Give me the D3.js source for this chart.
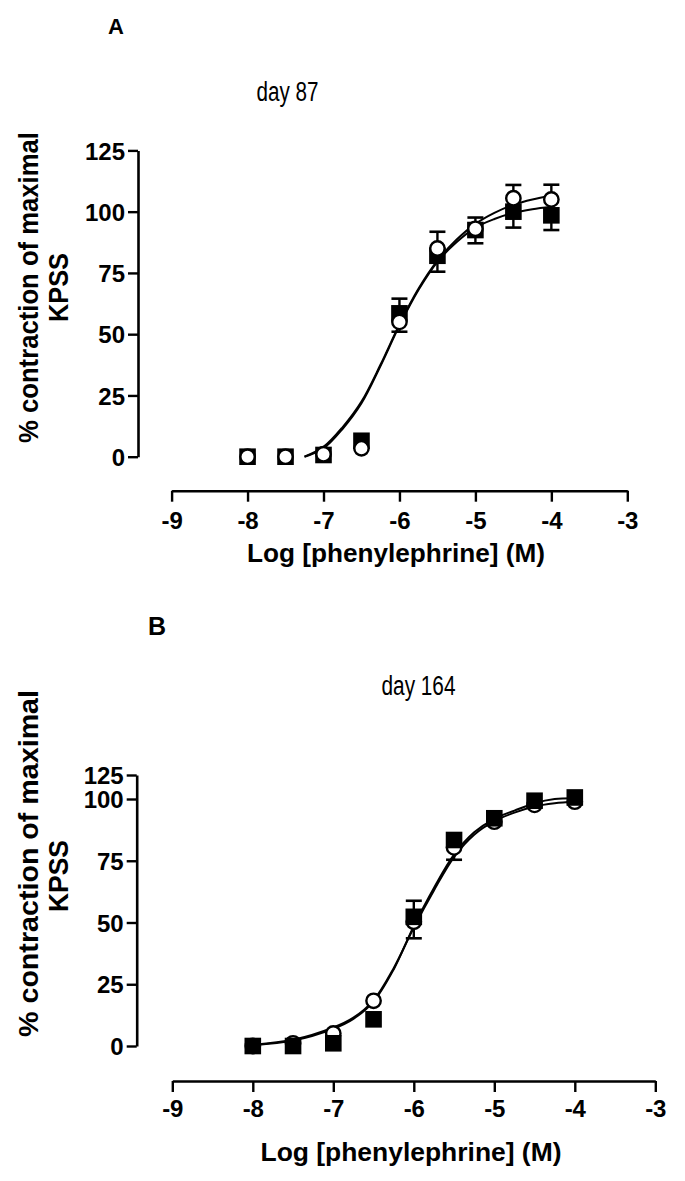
<!DOCTYPE html>
<html><head><meta charset="utf-8">
<script src="https://cdn.jsdelivr.net/npm/d3@7"></script>
<style>body{margin:0;background:#fff}svg{display:block}</style>
</head><body>
<svg id="c" width="685" height="1181"></svg>
<script>
// ---------- data ----------
const logConc = [-8, -7.5, -7, -6.5, -6, -5.5, -5, -4.5, -4];
const xTicks = [-9, -8, -7, -6, -5, -4, -3];
const yTicks = [0, 25, 50, 75, 100, 125];

// Panel A (day 87)
const aSquare    = [0, 0, 0.7, 6.5, 58.5, 82, 92.5, 100, 98.5];
const aSquareErr = [0, 0, 0, 0, 6, 6.5, 5.4, 6.5, 6];
const aCircle    = [0, 0, 1, 3.4, 55, 85, 93, 105.5, 105];
const aCircleErr = [0, 0, 0, 0, 4, 6.8, 4.6, 5.4, 6];
const aFitX      = [-7.25, -7, -6.75, -6.5, -6.25, -6, -5.75, -5.5, -5.25, -5, -4.75, -4.5, -4.25, -4];
const aCircleFit = [0, 4, 12, 22.5, 37.5, 54, 68.5, 80, 88.5, 95, 99.5, 102.8, 105, 106.5];
const aSquareFit = [0, 3.4, 11.3, 21.8, 37, 53.5, 68, 79.5, 87.5, 93.5, 97, 99.5, 101, 102];

// Panel B (day 164)
const bSquare    = [0, 0, 1.1, 10.8, 52.3, 83.4, 92.2, 99.3, 101.6];
const bSquareErr = [0, 0, 0, 0, 6.5, 0, 0, 0, 0];
const bCircle    = [0, 1.1, 5.1, 18.3, 50.3, 80.4, 90.8, 97.6, 98.9];
const bCircleErr = [0, 0, 0, 0, 6.7, 5, 0, 0, 0];
const bFitX      = [-8, -7.5, -7, -6.75, -6.5, -6.25, -6, -5.75, -5.5, -5.25, -5, -4.75, -4.5, -4.25, -4];
const bCircleFit = [0.5, 2.5, 7.5, 11.5, 18.5, 31.5, 48, 63, 76.5, 85.5, 91, 94.5, 97, 98.3, 99];
const bSquareFit = [0.3, 2.2, 7, 11, 18, 31, 48.5, 64, 77.5, 86.5, 92, 95.3, 98.3, 100, 100.8];

const panelLetters = ["A", "B"];
const panelTitles = ["day 87", "day 164"];
const xTitle = "Log [phenylephrine] (M)";
const yTitle1 = "% contraction of maximal";
const yTitle2 = "KPSS";

// ---------- drawing ----------
const svg = d3.select("#c");
const BOLD = "'Liberation Sans', Arial, Helvetica, sans-serif";
const NARROW = "'Liberation Sans Narrow', 'Arial Narrow', 'Liberation Sans', Arial, sans-serif";

function panel(cfg) {
  const g = svg.append("g");
  const x = d3.scaleLinear().domain([-9, -3]).range(cfg.xRange);
  const y = d3.scaleLinear().domain(cfg.yDomain).range(cfg.yRange);

  g.append("text").attr("x", cfg.letterX).attr("y", cfg.letterY)
    .attr("font-family", BOLD).attr("font-weight", "bold").attr("font-size", cfg.letterSize)
    .text(cfg.letter);
  g.append("text").attr("x", cfg.titleX).attr("y", cfg.titleY)
    .attr("text-anchor", "middle").attr("font-family", NARROW).attr("font-size", 27)
    .attr("textLength", cfg.titleLen).attr("lengthAdjust", "spacingAndGlyphs")
    .text(cfg.title);

  const ya = g.append("g").attr("transform", `translate(${cfg.yAxisX},0)`)
    .call(d3.axisLeft(y).tickValues(yTicks).tickSize(10).tickSizeOuter(0).tickPadding(3));
  ya.select(".domain").attr("stroke-width", 2.6).attr("stroke", "#000");
  ya.selectAll(".tick line").attr("stroke-width", 2.4).attr("stroke", "#000");
  ya.selectAll(".tick text").attr("font-family", BOLD).attr("font-weight", "bold")
    .attr("font-size", 24).attr("fill", "#000").attr("dy", "0.36em");
  ya.attr("font-size", null).attr("font-family", null);

  const xa = g.append("g").attr("transform", `translate(0,${cfg.xAxisY})`)
    .call(d3.axisBottom(x).tickValues(xTicks).tickSize(11).tickSizeOuter(0).tickPadding(8));
  xa.select(".domain").attr("stroke-width", 2.6).attr("stroke", "#000");
  xa.selectAll(".tick line").attr("stroke-width", 2.4).attr("stroke", "#000");
  xa.selectAll(".tick text").attr("font-family", BOLD).attr("font-weight", "bold")
    .attr("font-size", 24).attr("fill", "#000").attr("y", cfg.xLabelOff).attr("dy", "0.71em")
    .text(d => d.toString().replace("\u2212", "-"));
  xa.attr("font-size", null).attr("font-family", null);

  g.append("text").attr("x", cfg.xTitleX).attr("y", cfg.xTitleY).attr("text-anchor", "middle")
    .attr("font-family", BOLD).attr("font-weight", "bold").attr("font-size", 25)
    .attr("textLength", cfg.xTitleLen).attr("lengthAdjust", "spacingAndGlyphs")
    .text(xTitle);
  g.append("text").attr("transform", `translate(${cfg.yT1X},${cfg.yT1C}) rotate(-90)`)
    .attr("text-anchor", "middle")
    .attr("font-family", BOLD).attr("font-weight", "bold").attr("font-size", 27)
    .attr("textLength", cfg.yT1Len).attr("lengthAdjust", "spacingAndGlyphs")
    .text(yTitle1);
  g.append("text").attr("transform", `translate(${cfg.yT2X},${cfg.yT2C}) rotate(-90)`)
    .attr("text-anchor", "middle")
    .attr("font-family", BOLD).attr("font-weight", "bold").attr("font-size", 27)
    .attr("textLength", cfg.yT2Len).attr("lengthAdjust", "spacingAndGlyphs")
    .text(yTitle2);

  const line = d3.line().x(d => x(d[0])).y(d => y(d[1])).curve(d3.curveCatmullRom.alpha(0.5));
  [cfg.sqFit, cfg.ciFit].forEach(f => {
    g.append("path").attr("d", line(cfg.fitX.map((v, i) => [v, f[i]])))
      .attr("fill", "none").attr("stroke", "#000").attr("stroke-width", 2);
  });

  // error bars: each series' bar points away from the other series
  function errBars(vals, errs, other) {
    logConc.forEach((c, i) => {
      if (!errs[i]) return;
      const dir = vals[i] >= other[i] ? 1 : -1;
      const end = vals[i] + dir * errs[i];
      g.append("line").attr("x1", x(c)).attr("x2", x(c)).attr("y1", y(vals[i])).attr("y2", y(end))
        .attr("stroke", "#000").attr("stroke-width", 2.4);
      g.append("line").attr("x1", x(c) - 8).attr("x2", x(c) + 8).attr("y1", y(end)).attr("y2", y(end))
        .attr("stroke", "#000").attr("stroke-width", 2.6);
    });
  }
  errBars(cfg.sq, cfg.sqErr, cfg.ci);
  errBars(cfg.ci, cfg.ciErr, cfg.sq);

  function squares() {
    g.append("g").selectAll("rect").data(cfg.sq).join("rect")
      .attr("x", (d, i) => x(logConc[i]) - 8.3).attr("y", d => y(d) - 8.3)
      .attr("width", 16.6).attr("height", 16.6).attr("fill", "#000");
  }
  function circles() {
    g.append("g").selectAll("circle").data(cfg.ci).join("circle")
      .attr("cx", (d, i) => x(logConc[i])).attr("cy", d => y(d)).attr("r", 7.2)
      .attr("fill", "#fff").attr("stroke", "#000").attr("stroke-width", 2.4);
  }
  if (cfg.circlesOnTop) { squares(); circles(); } else { circles(); squares(); }
}

panel({
  letter: panelLetters[0], letterX: 108, letterY: 34, letterSize: 22,
  title: panelTitles[0], titleX: 287.5, titleY: 101, titleLen: 62,
  xRange: [171.6, 627.3], yDomain: [0, 125], yRange: [456.7, 150.4],
  yAxisX: 138, xAxisY: 490.7, xLabelOff: 21,
  xTitleX: 396, xTitleY: 562, xTitleLen: 298,
  yT1X: 38, yT1C: 287.5, yT1Len: 311, yT2X: 68, yT2C: 287.5, yT2Len: 69,
  sq: aSquare, sqErr: aSquareErr, ci: aCircle, ciErr: aCircleErr,
  fitX: aFitX, sqFit: aSquareFit, ciFit: aCircleFit, circlesOnTop: true
});

panel({
  letter: panelLetters[1], letterX: 148, letterY: 635, letterSize: 25,
  title: panelTitles[1], titleX: 418.5, titleY: 695, titleLen: 74,
  xRange: [172.3, 655.3], yDomain: [0, 100, 125], yRange: [1046, 799, 775],
  yAxisX: 136.7, xAxisY: 1081, xLabelOff: 19,
  xTitleX: 411, xTitleY: 1161, xTitleLen: 301,
  yT1X: 38, yT1C: 863.5, yT1Len: 347, yT2X: 68, yT2C: 876, yT2Len: 72,
  sq: bSquare, sqErr: bSquareErr, ci: bCircle, ciErr: bCircleErr,
  fitX: bFitX, sqFit: bSquareFit, ciFit: bCircleFit, circlesOnTop: false
});
</script>
</body></html>
